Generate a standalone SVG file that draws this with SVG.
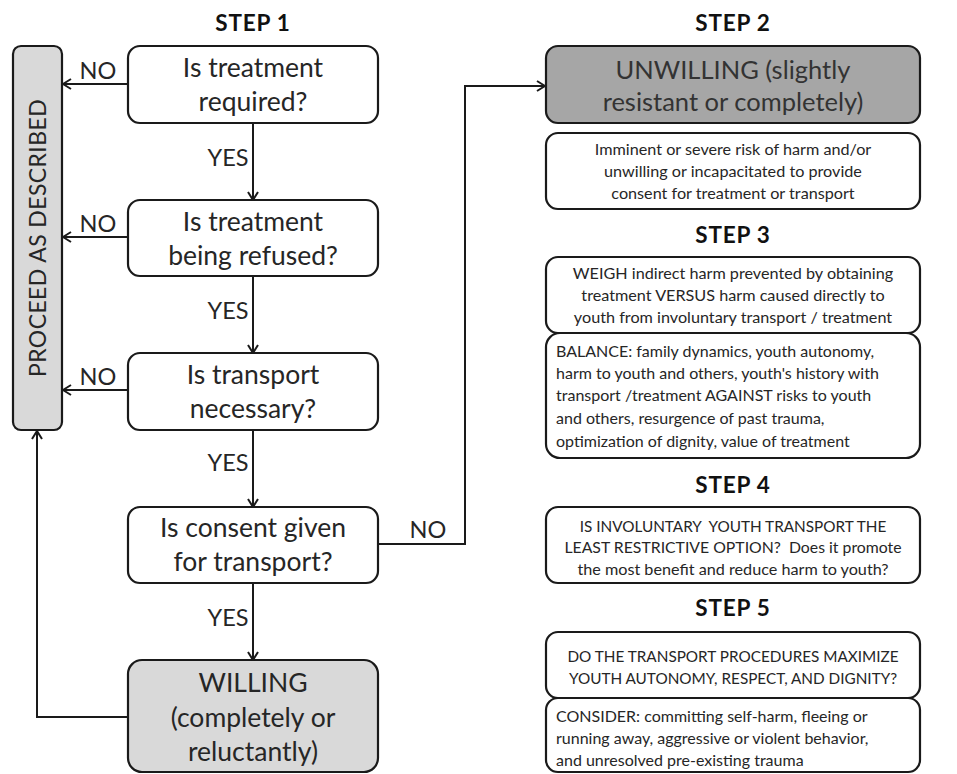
<svg xmlns="http://www.w3.org/2000/svg" width="957" height="774" viewBox="0 0 957 774">
<defs>
<marker id="arr" viewBox="0 0 10 12" refX="9" refY="6" markerWidth="10" markerHeight="12" orient="auto" markerUnits="userSpaceOnUse"><path d="M1,1 L9,6 L1,11" fill="none" stroke="#1a1a1a" stroke-width="2"/></marker>
<style>
text{font-family:Lato,"Open Sans","Liberation Sans",sans-serif;fill:#262626}
.box{fill:#fff;stroke:#1a1a1a;stroke-width:2.2}
.lg{fill:#d9d9d9;stroke:#1a1a1a;stroke-width:2.2}
.dg{fill:#a6a6a6;stroke:#1a1a1a;stroke-width:2.2}
.q{font-size:26.5px;text-anchor:middle}
.big{font-size:25.5px;text-anchor:middle;fill:#333}
.step{font-size:22.5px;font-weight:bold;text-anchor:middle;fill:#111;letter-spacing:0.8px}
.lab{font-size:23.5px;text-anchor:middle}
.s{font-size:16.2px;text-anchor:middle}
.sc{font-size:15.3px;text-anchor:middle}
.sl{font-size:16px}
.c{fill:none;stroke:#1a1a1a;stroke-width:2}
</style>
</defs>
<rect width="957" height="774" fill="#fff"/>
<g id="titles">
<text class="step" x="253" y="31">STEP 1</text>
<text class="step" x="733" y="31">STEP 2</text>
<text class="step" x="733" y="243">STEP 3</text>
<text class="step" x="733" y="493">STEP 4</text>
<text class="step" x="733" y="616">STEP 5</text>
</g>
<g id="proceed">
<rect class="lg" x="13" y="46" width="49" height="384" rx="8"/>
<text transform="translate(46,238) rotate(-90)" x="0" y="0" style="font-size:23px;text-anchor:middle;letter-spacing:0.4px">PROCEED AS DESCRIBED</text>
</g>
<g id="q1">
<rect class="box" x="128" y="46" width="250" height="77" rx="12"/>
<text class="q" x="253" y="77">Is treatment</text>
<text class="q" x="253" y="111">required?</text>
</g>
<g id="q2">
<rect class="box" x="128" y="200" width="250" height="76" rx="12"/>
<text class="q" x="253" y="231">Is treatment</text>
<text class="q" x="253" y="265">being refused?</text>
</g>
<g id="q3">
<rect class="box" x="128" y="353" width="250" height="77" rx="12"/>
<text class="q" x="253" y="384">Is transport</text>
<text class="q" x="253" y="418">necessary?</text>
</g>
<g id="q4">
<rect class="box" x="128" y="507" width="250" height="76" rx="12"/>
<text class="q" x="253" y="537">Is consent given</text>
<text class="q" x="253" y="571">for transport?</text>
</g>
<g id="willing">
<rect class="lg" x="128" y="660" width="250" height="112" rx="14"/>
<text class="q" x="253" y="692">WILLING</text>
<text class="q" x="253" y="727">(completely or</text>
<text class="q" x="253" y="761">reluctantly)</text>
</g>
<g id="unwilling">
<rect class="dg" x="546" y="46" width="374" height="77" rx="12"/>
<text class="big" x="733" y="79">UNWILLING (slightly</text>
<text class="big" x="733" y="111">resistant or completely)</text>
</g>
<g id="imminent">
<rect class="box" x="546" y="133" width="374" height="76" rx="12"/>
<text class="s" x="733" y="155">Imminent or severe risk of harm and/or</text>
<text class="s" x="733" y="177">unwilling or incapacitated to provide</text>
<text class="s" x="733" y="199">consent for treatment or transport</text>
</g>
<g id="weigh">
<rect class="box" x="546" y="257" width="374" height="76" rx="12"/>
<text class="s" x="733" y="279">WEIGH indirect harm prevented by obtaining</text>
<text class="s" x="733" y="301">treatment VERSUS harm caused directly to</text>
<text class="s" x="733" y="323">youth from involuntary transport / treatment</text>
</g>
<g id="balance">
<rect class="box" x="546" y="333" width="374" height="125" rx="14"/>
<text class="sl" x="556" y="357">BALANCE: family dynamics, youth autonomy,</text>
<text class="sl" x="556" y="379">harm to youth and others, youth's history with</text>
<text class="sl" x="556" y="401">transport /treatment AGAINST risks to youth</text>
<text class="sl" x="556" y="424">and others, resurgence of past trauma,</text>
<text class="sl" x="556" y="447">optimization of dignity, value of treatment</text>
</g>
<g id="step4box">
<rect class="box" x="546" y="507" width="374" height="76" rx="12"/>
<text class="sc" x="733" y="532" xml:space="preserve">IS INVOLUNTARY  YOUTH TRANSPORT THE</text>
<text class="s" x="733" y="553" xml:space="preserve" style="font-size:15.8px">LEAST RESTRICTIVE OPTION?  Does it promote</text>
<text class="s" x="733" y="575">the most benefit and reduce harm to youth?</text>
</g>
<g id="step5box">
<rect class="box" x="546" y="632" width="374" height="66" rx="12"/>
<text class="sc" x="733" y="662">DO THE TRANSPORT PROCEDURES MAXIMIZE</text>
<text class="sc" x="733" y="684">YOUTH AUTONOMY, RESPECT, AND DIGNITY?</text>
</g>
<g id="consider">
<rect class="box" x="546" y="698" width="374" height="74" rx="12"/>
<text class="sl" x="556" y="722">CONSIDER: committing self-harm, fleeing or</text>
<text class="sl" x="556" y="744">running away, aggressive or violent behavior,</text>
<text class="sl" x="556" y="766">and unresolved pre-existing trauma</text>
</g>
<g id="connectors">
<line class="c" x1="253" y1="123" x2="253" y2="200" marker-end="url(#arr)"/>
<line class="c" x1="253" y1="276" x2="253" y2="353" marker-end="url(#arr)"/>
<line class="c" x1="253" y1="430" x2="253" y2="507" marker-end="url(#arr)"/>
<line class="c" x1="253" y1="583" x2="253" y2="660" marker-end="url(#arr)"/>
<line class="c" x1="128" y1="84" x2="63" y2="84" marker-end="url(#arr)"/>
<line class="c" x1="128" y1="237" x2="63" y2="237" marker-end="url(#arr)"/>
<line class="c" x1="128" y1="390" x2="63" y2="390" marker-end="url(#arr)"/>
<path class="c" d="M128,717 H37 V431" marker-end="url(#arr)"/>
<path class="c" d="M378,544 H465 V86 H545" marker-end="url(#arr)"/>
<text class="lab" x="228" y="166">YES</text>
<text class="lab" x="228" y="319">YES</text>
<text class="lab" x="228" y="471">YES</text>
<text class="lab" x="228" y="626">YES</text>
<text class="lab" x="98" y="79">NO</text>
<text class="lab" x="98" y="232">NO</text>
<text class="lab" x="98" y="385">NO</text>
<text class="lab" x="428" y="538">NO</text>
</g>
</svg>
